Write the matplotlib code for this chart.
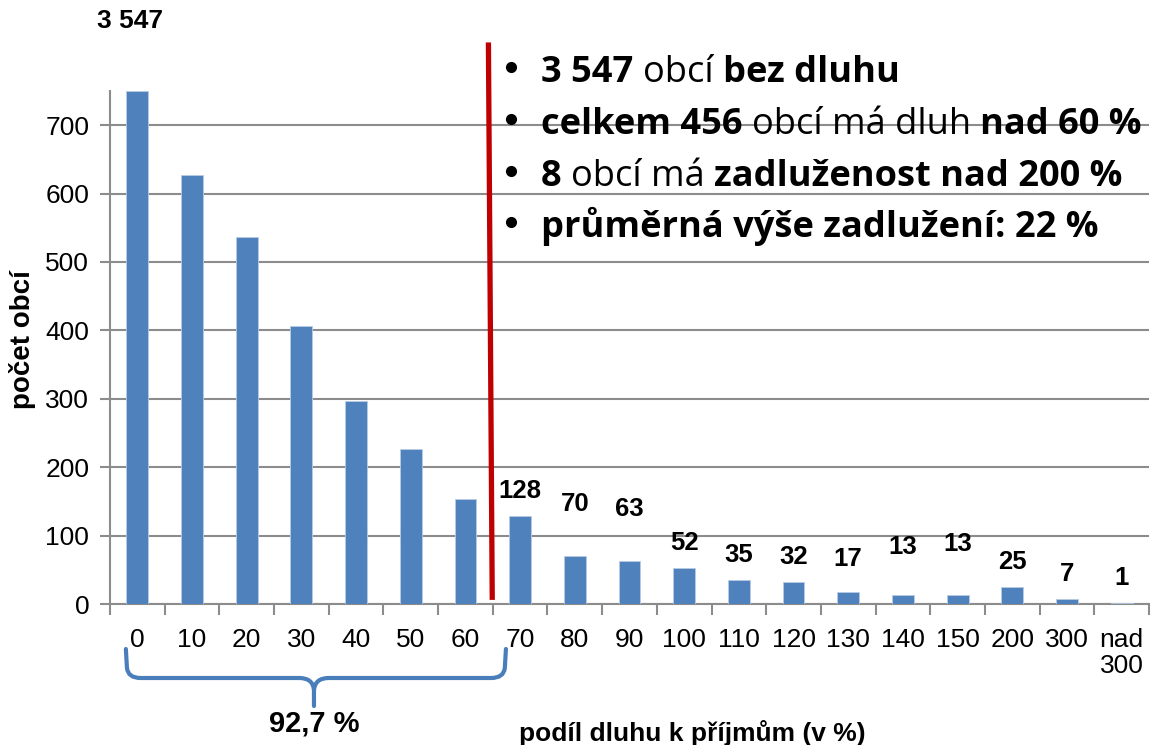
import matplotlib
matplotlib.use("Agg")
import matplotlib.pyplot as plt
from matplotlib.path import Path
from matplotlib.patches import PathPatch
from matplotlib.lines import Line2D
import matplotlib.transforms as mtransforms

# podil dluhu k prijmum (v %) -> pocet obci
categories = ["0", "10", "20", "30", "40", "50", "60", "70", "80", "90", "100",
              "110", "120", "130", "140", "150", "200", "300", "nad\n300"]
counts = [3547, 627, 536, 407, 297, 227, 154, 128, 70, 63, 52,
          35, 32, 17, 13, 13, 25, 7, 1]
labelled_from = 7          # value labels shown from the "70" bar on
y_max = 750                # the first bar is cut off at the top

# extra lift (px) of some value labels, as placed in the original
label_lift = [0, 0, 0, 0, 0, 0, 0, 0, 27, 27, 0, 0, 0, 8, 23, 26, 0, 0, 0]

bullets = [
    [("3 547", True), ("obcí", False), ("bez dluhu", True)],
    [("celkem 456", True), ("obcí má dluh", False), ("nad 60 %", True)],
    [("8", True), ("obcí má", False), ("zadluženost nad 200 %", True)],
    [("průměrná výše zadlužení: 22 %", True)],
]

W, H = 1153, 745
BLUE = "#4F81BD"
GRID = "#8C8C8C"
plt.rcParams["font.family"] = ["Liberation Sans", "DejaVu Sans"]

fig = plt.figure(figsize=(W / 100, H / 100), dpi=100)
ax = fig.add_axes([110 / W, (H - 604) / H, 1039 / W, 513 / H])

x = list(range(len(categories)))
shown = [min(v, y_max) for v in counts]
ax.bar(x, shown, width=0.4, color=BLUE, edgecolor="#B8CCE4", linewidth=0.6, zorder=3)

ax.set_xlim(-0.5, len(categories) - 0.5)
ax.set_ylim(0, y_max)
ax.set_yticks(range(0, 701, 100))
ax.tick_params(axis="y", labelsize=19, length=7, width=1.5, color=GRID, pad=8)
ax.set_xticks(x)
ax.set_xticklabels(categories, fontsize=19, linespacing=1.15)
ax.tick_params(axis="x", which="major", length=0, pad=17)
ax.set_xticks([i - 0.5 for i in range(len(categories) + 1)], minor=True)
ax.tick_params(axis="x", which="minor", length=8, width=1.5, color=GRID, direction="out")
ax.grid(axis="y", color=GRID, linewidth=1.5, zorder=0)
for s in ["top", "right"]:
    ax.spines[s].set_visible(False)
for s in ["left", "bottom"]:
    ax.spines[s].set_color(GRID)
    ax.spines[s].set_linewidth(1.5)

# value labels
for i in range(labelled_from, len(counts)):
    ax.annotate(str(counts[i]), (x[i], counts[i]), xytext=(0, (25 + label_lift[i]) * 0.72),
                textcoords="offset points", ha="center", va="center",
                fontsize=18.5, fontweight="bold")
ax.annotate(f"{counts[0]:,}".replace(",", " "), (x[0], y_max), xytext=(-7 * 0.72, 70 * 0.72),
            textcoords="offset points", ha="center", va="center",
            fontsize=19, fontweight="bold", annotation_clip=False)

# red dividing line
ax.plot([6.42, 6.49], [821, 6], color="#C00000", linewidth=3.8, clip_on=False, zorder=5,
        solid_capstyle="butt")

# brace under 0-60
bt = mtransforms.blended_transform_factory(ax.transData, fig.transFigure)
def fy(py):
    return (H - py) / H
xl, xm, xr = -0.21, 3.23, 6.74
r = 0.27
y_top, y_mid, y_tip = 649, 678, 706
verts = [
    (xl, fy(y_top)), (xl + 0.02, fy(y_mid - 10)),
    (xl + 0.04, fy(y_mid)), (xl + r, fy(y_mid)),
    (xm - r, fy(y_mid)),
    (xm - 0.02, fy(y_mid)), (xm, fy(y_mid + 12)),
    (xm, fy(y_tip)),
    (xm, fy(y_mid + 12)),
    (xm + 0.02, fy(y_mid)), (xm + r, fy(y_mid)),
    (xr - r, fy(y_mid)),
    (xr - 0.04, fy(y_mid)), (xr - 0.02, fy(y_mid - 10)),
    (xr, fy(y_top)),
]
codes = [Path.MOVETO, Path.LINETO, Path.CURVE3, Path.CURVE3, Path.LINETO,
         Path.CURVE3, Path.CURVE3, Path.LINETO, Path.MOVETO,
         Path.CURVE3, Path.CURVE3, Path.LINETO, Path.CURVE3, Path.CURVE3, Path.LINETO]
fig.add_artist(PathPatch(Path(verts, codes), transform=bt, facecolor="none",
                         edgecolor="#4A7EBB", linewidth=3.0, capstyle="round"))

fig.text(314 / W, fy(723), "92,7 %", ha="center", va="center", fontsize=21, fontweight="bold")
fig.text(692 / W, fy(733), "podíl dluhu k příjmům (v %)", ha="center", va="center",
         fontsize=19, fontweight="bold")
fig.text(22 / W, fy(340), "počet obcí", ha="center", va="center", rotation=90,
         fontsize=20, fontweight="bold")

# bullet list, mixed bold runs
fig.canvas.draw()
renderer = fig.canvas.get_renderer()
bfam = ["Open Sans", "DejaVu Sans"]

def width(s, bold, size):
    t = fig.text(0, 0, s, fontsize=size, fontweight="bold" if bold else "normal", family=bfam)
    w = t.get_window_extent(renderer).width
    t.remove()
    return w

def line_width(runs, size):
    sp = width("a a", False, size) - width("aa", False, size)
    return sum(width(s, b, size) for s, b in runs) + sp * (len(runs) - 1)

size = 24 * 602 / line_width(bullets[1], 24)
space = width("a a", False, size) - width("aa", False, size)
baselines = [82, 134, 186, 237]
for runs, base in zip(bullets, baselines):
    fig.add_artist(Line2D([511 / W], [fy(base - 15)], transform=fig.transFigure,
                          marker="o", markersize=7, color="black", linestyle="none"))
    px = 541
    for s, b in runs:
        fig.text(px / W, fy(base), s, fontsize=size, family=bfam, va="baseline",
                 fontweight="bold" if b else "normal")
        px += width(s, b, size) + space

fig.savefig("out.png", dpi=100)
